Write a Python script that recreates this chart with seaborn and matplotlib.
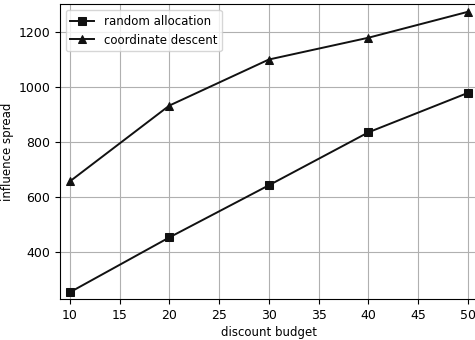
import pandas as pd
import matplotlib
matplotlib.use("Agg")
import matplotlib.pyplot as plt
import seaborn as sns

# data
budget = [10, 20, 30, 40, 50]
random_alloc = [255, 454, 643, 835, 978]
coord_descent = [657, 932, 1099, 1178, 1272]

df = pd.DataFrame({
    "discount budget": budget * 2,
    "influence spread": random_alloc + coord_descent,
    "method": ["random allocation"] * 5 + ["coordinate descent"] * 5,
})

fig = plt.figure(figsize=(4.75, 3.4), dpi=100)
ax = fig.add_axes([0.126, 0.12, 0.88, 0.868])

sns.lineplot(
    data=df, x="discount budget", y="influence spread",
    hue="method", style="method",
    markers={"random allocation": "s", "coordinate descent": "^"},
    dashes=False, palette={"random allocation": "#111111", "coordinate descent": "#111111"},
    markersize=6, markeredgecolor="#111111", linewidth=1.4, ax=ax,
)

ax.set_xlim(9, 51)
ax.set_ylim(230, 1300)
ax.set_xticks([10, 15, 20, 25, 30, 35, 40, 45, 50])
ax.set_yticks([400, 600, 800, 1000, 1200])
ax.tick_params(labelsize=9)
ax.set_xlabel("discount budget", fontsize=8.5, labelpad=3)
ax.set_ylabel("influence spread", fontsize=8.5, labelpad=3)
ax.grid(True, color="#b0b0b0", linewidth=0.8)
ax.set_axisbelow(True)
ax.legend(loc="upper left", fontsize=8.5)

fig.savefig("out.png", dpi=100)
